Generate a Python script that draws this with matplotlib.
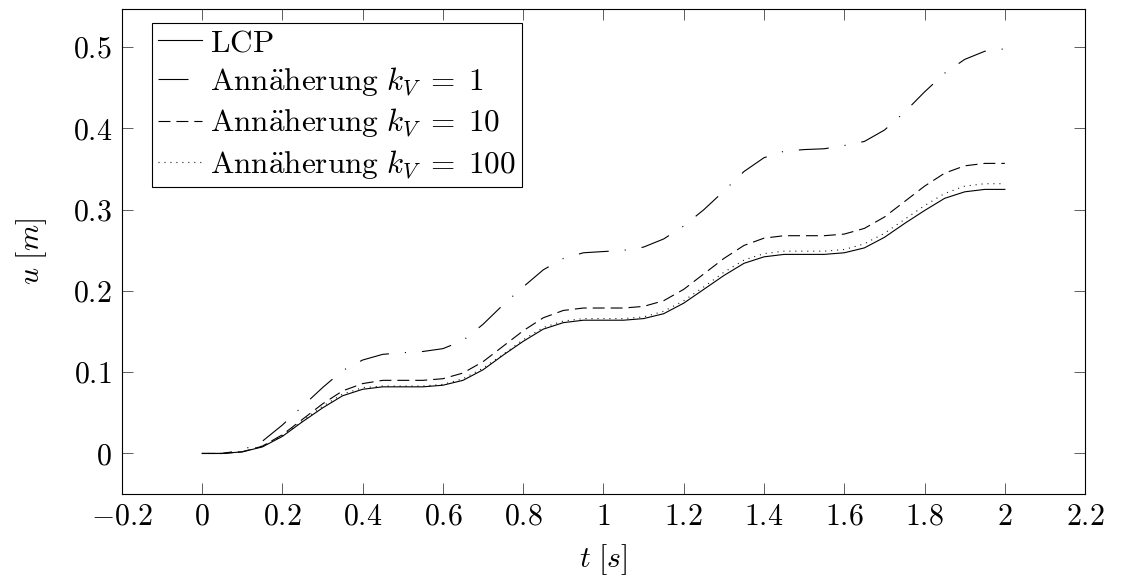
import matplotlib
matplotlib.use('Agg')
import matplotlib.pyplot as plt
from matplotlib.ticker import MultipleLocator, FuncFormatter

plt.rcParams['mathtext.fontset'] = 'cm'
plt.rcParams['font.family'] = ['cmr10', 'DejaVu Serif']
plt.rcParams['axes.unicode_minus'] = True
plt.rcParams['lines.scale_dashes'] = False

# Zeit [s]
t = [0.00, 0.05, 0.10, 0.15, 0.20, 0.25, 0.30, 0.35, 0.40, 0.45,
     0.50, 0.55, 0.60, 0.65, 0.70, 0.75, 0.80, 0.85, 0.90, 0.95,
     1.00, 1.05, 1.10, 1.15, 1.20, 1.25, 1.30, 1.35, 1.40, 1.45,
     1.50, 1.55, 1.60, 1.65, 1.70, 1.75, 1.80, 1.85, 1.90, 1.95, 2.00]

# Verschiebung u [m]
u_lcp = [0.000, 0.000, 0.002, 0.008, 0.021, 0.039, 0.056, 0.071, 0.079, 0.082,
         0.082, 0.082, 0.084, 0.090, 0.103, 0.121, 0.138, 0.153, 0.161, 0.164,
         0.164, 0.164, 0.166, 0.172, 0.185, 0.202, 0.219, 0.234, 0.242, 0.245,
         0.245, 0.245, 0.247, 0.253, 0.266, 0.283, 0.299, 0.314, 0.322, 0.325, 0.325]

u_k1 = [0.000, 0.000, 0.004, 0.015, 0.035, 0.058, 0.081, 0.102, 0.115, 0.122,
        0.124, 0.1255, 0.129, 0.139, 0.159, 0.183, 0.205, 0.226, 0.240, 0.247,
        0.2485, 0.250, 0.254, 0.264, 0.280, 0.300, 0.323, 0.347, 0.364, 0.372,
        0.374, 0.375, 0.379, 0.384, 0.398, 0.420, 0.445, 0.468, 0.485, 0.495, 0.498]

u_k10 = [0.000, 0.000, 0.002, 0.009, 0.023, 0.042, 0.061, 0.077, 0.086, 0.090,
         0.090, 0.090, 0.092, 0.099, 0.113, 0.132, 0.151, 0.167, 0.176, 0.179,
         0.179, 0.179, 0.181, 0.188, 0.202, 0.221, 0.240, 0.256, 0.265, 0.268,
         0.268, 0.268, 0.270, 0.277, 0.291, 0.310, 0.329, 0.345, 0.354, 0.357, 0.357]

u_k100 = [0.000, 0.000, 0.002, 0.009, 0.022, 0.040, 0.058, 0.073, 0.081, 0.083,
          0.083, 0.083, 0.085, 0.092, 0.105, 0.122, 0.140, 0.155, 0.163, 0.166,
          0.166, 0.166, 0.168, 0.175, 0.188, 0.205, 0.223, 0.238, 0.246, 0.249,
          0.249, 0.249, 0.251, 0.258, 0.271, 0.288, 0.305, 0.320, 0.329, 0.332, 0.332]

labels = [r'$\mathrm{LCP}$',
          r'$\mathrm{Ann\ddot{a}herung}\ k_V \;=\; 1$',
          r'$\mathrm{Ann\ddot{a}herung}\ k_V \;=\; 10$',
          r'$\mathrm{Ann\ddot{a}herung}\ k_V \;=\; 100$']

fs = 21.5
fs_leg = 22.5

fig = plt.figure(figsize=(11.28, 5.81), dpi=100)
ax = fig.add_axes([0.108, 0.150, 0.854, 0.8345])

lw = 0.8
ax.plot(t, u_lcp, color='black', lw=lw, label=labels[0])
ax.plot(t, u_k1, color='black', lw=lw, dashes=(21.6, 11.5, 0.8, 11.5), label=labels[1])
ax.plot(t, u_k10, color='black', lw=lw, dashes=(8.6, 4.3), label=labels[2])
ax.plot(t, u_k100, color='black', lw=lw, dashes=(0.7, 3.6), label=labels[3])

ax.set_xlim(-0.2, 2.2)
ax.set_ylim(-0.0497, 0.547)
ax.xaxis.set_major_locator(MultipleLocator(0.2))
ax.yaxis.set_major_locator(MultipleLocator(0.1))
fmt = FuncFormatter(lambda v, p: '$%g$' % round(v, 6))
ax.xaxis.set_major_formatter(fmt)
ax.yaxis.set_major_formatter(fmt)
ax.tick_params(direction='in', length=8, width=0.6, top=True, right=True,
               labelsize=fs, pad=7, color='#444444')
for s in ax.spines.values():
    s.set_linewidth(0.8)

ax.set_xlabel(r'$t\ [s]$', fontsize=fs, labelpad=8)
ax.set_ylabel(r'$u\ [m]$', fontsize=fs, labelpad=17)

leg = ax.legend(loc='upper left', bbox_to_anchor=(0.031, 0.971), borderaxespad=0,
                fontsize=fs_leg, fancybox=False, edgecolor='black', framealpha=1,
                handlelength=1.4, handletextpad=0.27, labelspacing=0.26,
                borderpad=0.2)
leg.get_frame().set_linewidth(0.8)

plt.savefig('out.png', dpi=100)
